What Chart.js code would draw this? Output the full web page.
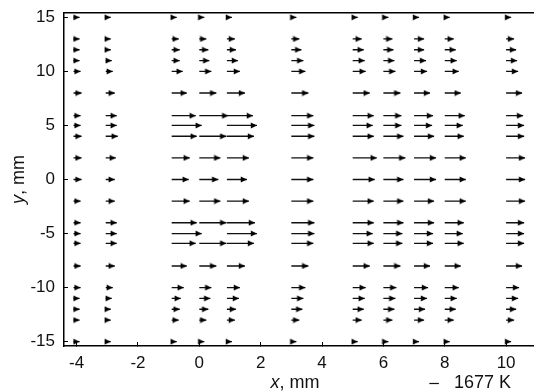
<!DOCTYPE html>
<html>
<head>
<meta charset="utf-8">
<script src="https://cdn.jsdelivr.net/npm/chart.js@4.4.1/dist/chart.umd.min.js"></script>
<style>
  body { margin: 0; background: #fff; }
  canvas { display: block; }
</style>
</head>
<body>
<canvas id="quiver" width="534" height="392"></canvas>
<script>
// vector tails: columns (x, mm) and rows (y, mm)
const xCols = [-4.1, -3.05, -0.9, 0, 0.9, 3, 5, 6, 7, 8, 10];
const yRows = [15, 13, 12, 11, 10, 8, 5.9, 5, 4, 2, 0, -2, -4, -5, -5.9, -8, -10, -11, -12, -13, -15];

// x component of each vector, K (same order as xCols), null = no vector
const uY15  = [1060, 880, 880, 880, 880, 880, 880, 880, 880, 880, 880];
const uY13  = [1060, 880, 1240, 1240, 1410, 1410, 1590, 1590, 1770, 1590, 1410];
const uY12  = [1060, 880, 1410, 1590, 1590, 1770, 1940, 1770, 1770, 1940, 1770];
const uY11  = [1060, 1060, 1410, 1770, 1940, 2120, 2120, 1940, 2120, 2120, 1940];
const uY10  = [1240, 1240, 1940, 2120, 2290, 2470, 2290, 2120, 2290, 2470, 2120];
const uY8   = [1410, 1590, 2650, 3000, 3180, 3000, 3000, 3000, 2820, 2820, 2820];
const uY6   = [1240, 1940, 4240, 5120, 4590, 3880, 3710, 3180, 3350, 3530, 3000];
const uY5   = [1240, 1940, 5300, null, 5300, 4060, 3530, 3180, 3180, 3180, 3180];
const uY4   = [1410, 2120, 4410, 4770, 4770, 4060, 3710, 3530, 3530, 3350, 3180];
const uY2   = [1410, 1770, 3180, 3710, 3880, 3880, 4240, 3880, 3880, 3710, 3350];
const uY0   = [1410, 1590, 3000, 3350, 3530, 3880, 3880, 3530, 3880, 3710, 3350];
const uYm2  = [1240, 1590, 3180, 3710, 3880, 3880, 3710, 3530, 3530, 3710, 3350];
const uYm4  = [1240, 1940, 4410, 4770, 4940, 4060, 3710, 3530, 3530, 3350, 3180];
const uYm5  = [1240, 1940, 5300, null, 5300, 4060, 3530, 3350, 3350, 3180, 3180];
const uYm6  = [1240, 1940, 4240, 4770, 4770, 3880, 3710, 3350, 3350, 3350, 3180];
const uYm8  = [1240, 1590, 2650, 3000, 3180, 3000, 3000, 3000, 2820, 2820, 2820];
const uYm10 = [1240, 1240, 2120, 2120, 2290, 2470, 2290, 2290, 2470, 2470, 2290];
const uYm11 = [1060, 1060, 1590, 1940, 2120, 2120, 2120, 2120, 2290, 2120, 2120];
const uYm12 = [1060, 880, 1410, 1590, 1590, 1940, 1940, 1940, 1940, 1940, 1770];
const uYm13 = [1060, 880, 1240, 1240, 1410, 1410, 1590, 1590, 1770, 1590, 1410];
const uYm15 = [1060, 880, 880, 880, 880, 880, 880, 880, 880, 880, 880];
const uRows = [uY15, uY13, uY12, uY11, uY10, uY8, uY6, uY5, uY4, uY2, uY0,
               uYm2, uYm4, uYm5, uYm6, uYm8, uYm10, uYm11, uYm12, uYm13, uYm15];

const xTicks = [-4, -2, 0, 2, 4, 6, 8, 10];
const yTicks = [-15, -10, -5, 0, 5, 10, 15];

// key: 1677 K drawn as this many mm
const refK = 1677;
const refLenMm = 0.31;
const mmPerK = refLenMm / refK;

// tail, head, gap for every vector
const segs = [];
yRows.forEach((y, r) => {
    uRows[r].forEach((u, c) => {
        if (u == null) return;
        const x0 = xCols[c];
        segs.push({x: x0, y: y}, {x: x0 + u * mmPerK, y: y}, {x: x0, y: null});
    });
});

// arrowhead with its tip in the middle of the image
function makeHead() {
    const c = document.createElement('canvas');
    c.width = 14; c.height = 7;
    const g = c.getContext('2d');
    g.fillStyle = '#000';
    g.beginPath();
    g.moveTo(7, 3.5);
    g.lineTo(0.8, 0.5);
    g.lineTo(0.8, 6.5);
    g.closePath();
    g.fill();
    return c;
}
const head = makeHead();

const FONT = '"Liberation Sans", Arial, sans-serif';

function drawMixed(ctx, parts, cx, cy) {
    let w = 0;
    parts.forEach(p => { ctx.font = p[0]; w += ctx.measureText(p[1]).width; });
    let x = cx - w / 2;
    parts.forEach(p => {
        ctx.font = p[0];
        ctx.fillText(p[1], x, cy);
        x += ctx.measureText(p[1]).width;
    });
}

// axis titles with italic variable + scale key
const annotate = {
    id: 'annotate',
    afterDraw(chart) {
        const {ctx, chartArea} = chart;
        const xs = chart.scales.x;
        ctx.save();
        ctx.fillStyle = '#111';
        ctx.textBaseline = 'middle';
        ctx.textAlign = 'left';
        const titleY = 383;
        drawMixed(ctx, [['italic 18px ' + FONT, 'x'], ['18px ' + FONT, ', mm']],
            (chartArea.left + chartArea.right) / 2 - 4, titleY);

        ctx.save();
        ctx.translate(19, (chartArea.top + chartArea.bottom) / 2);
        ctx.rotate(-Math.PI / 2);
        drawMixed(ctx, [['italic 18px ' + FONT, 'y'], ['18px ' + FONT, ', mm']], 0, 0);
        ctx.restore();

        const k0 = xs.getPixelForValue(7.5);
        const k1 = xs.getPixelForValue(7.5 + refK * mmPerK);
        ctx.strokeStyle = '#111';
        ctx.lineWidth = 1.2;
        ctx.beginPath();
        ctx.moveTo(k0, titleY + 0.5);
        ctx.lineTo(k1, titleY + 0.5);
        ctx.stroke();
        ctx.font = '18px ' + FONT;
        ctx.fillText(refK + ' K', k1 + 15, titleY);
        ctx.restore();
    }
};

const tickFont = {family: FONT, size: 17};

var ctx = document.getElementById('quiver').getContext('2d');
var myChart = new Chart(ctx, {
    type: 'line',
    data: {
        datasets: [{
            data: segs,
            borderColor: '#111',
            borderWidth: 1.3,
            spanGaps: false,
            pointStyle: head,
            pointRadius: c => (c.dataIndex % 3 === 1 ? 3 : 0),
            pointHoverRadius: 0,
            pointBorderWidth: 0,
            clip: false
        }]
    },
    options: {
        responsive: false,
        animation: false,
        events: [],
        layout: {padding: {top: 13, right: 0, bottom: 0, left: 0}},
        plugins: {legend: {display: false}, tooltip: {enabled: false}},
        scales: {
            x: {
                type: 'linear',
                position: 'bottom',
                min: -4.41,
                max: 10.91,
                afterBuildTicks: s => { s.ticks = xTicks.map(v => ({value: v})); },
                afterFit: s => { s.height = 46; s.paddingLeft = 0; s.paddingRight = 0; },
                grid: {drawOnChartArea: false, drawTicks: true, tickLength: -4, color: '#000', lineWidth: 1},
                border: {display: true, color: '#000', width: 1.5},
                ticks: {color: '#111', font: tickFont, padding: 11, maxRotation: 0, autoSkip: false}
            },
            x2: {
                type: 'linear',
                position: 'top',
                min: -4.41,
                max: 10.91,
                afterFit: s => { s.height = 0; s.paddingLeft = 0; s.paddingRight = 0; },
                grid: {drawOnChartArea: false, drawTicks: false},
                border: {display: true, color: '#000', width: 1.5},
                ticks: {display: false}
            },
            y: {
                type: 'linear',
                position: 'left',
                min: -15.4,
                max: 15.4,
                afterBuildTicks: s => { s.ticks = yTicks.map(v => ({value: v})); },
                afterFit: s => { s.width = 64; s.paddingTop = 0; s.paddingBottom = 0; },
                grid: {drawOnChartArea: false, drawTicks: true, tickLength: -4, color: '#000', lineWidth: 1},
                border: {display: true, color: '#000', width: 1.5},
                ticks: {color: '#111', font: tickFont, padding: 13, autoSkip: false}
            }
        }
    },
    plugins: [annotate]
});
</script>
</body>
</html>
